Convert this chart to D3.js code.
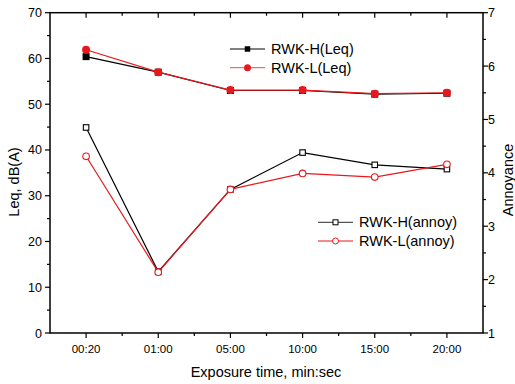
<!DOCTYPE html>
<html><head><meta charset="utf-8">
<script src="https://cdn.jsdelivr.net/npm/d3@7"></script>
<style>body{margin:0;background:#fff}svg{display:block}text{font-family:"Liberation Sans",Arial,sans-serif;fill:#000}</style>
</head><body>
<svg id="c" width="515" height="384"></svg>
<script>
const categories = ["00:20","01:00","05:00","10:00","15:00","20:00"];
const leqH = [60.4, 57.0, 53.0, 53.0, 52.2, 52.4];
const leqL = [61.9, 57.0, 53.1, 53.1, 52.3, 52.5];
const annoyH = [4.85, 2.15, 3.69, 4.38, 4.15, 4.07];
const annoyL = [4.31, 2.14, 3.69, 3.99, 3.92, 4.16];
const leftTicks = [0,10,20,30,40,50,60,70];
const rightTicks = [1,2,3,4,5,6,7];

const RED = "#e8191e";
const svg = d3.select("#c");
const L = 50, R = 483, T = 12.7, B = 333;
const x = d3.scaleLinear().domain([-0.5, categories.length - 0.5]).range([L, R]);
const yL = d3.scaleLinear().domain([0, 70]).range([B, T]);
const yR = d3.scaleLinear().domain([1, 7]).range([B, T]);

const g = svg.append("g");
function tickLine(x1,y1,x2,y2){ g.append("line").attr("x1",x1).attr("y1",y1).attr("x2",x2).attr("y2",y2).attr("stroke","#000").attr("stroke-width",1.2); }
g.append("rect").attr("x",L).attr("y",T).attr("width",R-L).attr("height",B-T).attr("fill","none").attr("stroke","#000").attr("stroke-width",1.5);

d3.range(-0.5, categories.length, 0.5).forEach(v => {
  const px = x(v);
  const major = Number.isInteger(v);
  if (v <= -0.5 || v >= categories.length - 0.5) return;
  const len = major ? 5 : 3;
  tickLine(px, B, px, B + len);
  tickLine(px, T, px, T + len);
});
categories.forEach((c,i) => {
  g.append("text").attr("x", x(i)).attr("y", B + 20).attr("text-anchor","middle").attr("font-size",11.5).text(c);
});
d3.range(0, 70.01, 5).forEach(v => {
  const major = v % 10 === 0;
  tickLine(L - (major ? 5 : 3), yL(v), L, yL(v));
});
leftTicks.forEach(v => {
  g.append("text").attr("x", L - 8).attr("y", yL(v) + 4.5).attr("text-anchor","end").attr("font-size",12.5).text(v);
});
d3.range(1, 7.01, 0.5).forEach(v => {
  const major = Number.isInteger(v);
  tickLine(R, yR(v), R + (major ? 5 : 3), yR(v));
});
rightTicks.forEach(v => {
  g.append("text").attr("x", R + 5).attr("y", yR(v) + 4.5).attr("text-anchor","start").attr("font-size",12.5).text(v);
});

svg.append("text").attr("transform",`translate(19,182) rotate(-90)`).attr("text-anchor","middle").attr("font-size",14.5).text("Leq, dB(A)");
svg.append("text").attr("transform",`translate(513,180) rotate(-90)`).attr("text-anchor","middle").attr("font-size",14.5).text("Annoyance");
svg.append("text").attr("x",266).attr("y",377).attr("text-anchor","middle").attr("font-size",14.5).text("Exposure time, min:sec");

const line = (ys) => d3.line().x((d,i)=>x(i)).y(d=>ys(d));
function series(data, ys, color, shape, filled){
  svg.append("path").datum(data).attr("d", line(ys)).attr("fill","none").attr("stroke",color).attr("stroke-width",1.2);
  data.forEach((d,i)=>{
    if (shape === "square") {
      const s = filled ? 7 : 5.5;
      svg.append("rect").attr("x",x(i)-s/2).attr("y",ys(d)-s/2).attr("width",s).attr("height",s)
        .attr("fill", filled ? color : "#fff").attr("stroke", color).attr("stroke-width", filled?0:1.1);
    } else {
      svg.append("circle").attr("cx",x(i)).attr("cy",ys(d)).attr("r", filled ? 4 : 3.3)
        .attr("fill", filled ? color : "#fff").attr("stroke", color).attr("stroke-width", filled?0:1.1);
    }
  });
}
series(annoyH, yR, "#000", "square", false);
series(annoyL, yR, RED, "circle", false);
series(leqH, yL, "#000", "square", true);
series(leqL, yL, RED, "circle", true);

function legendItem(lx, ly, color, shape, filled, label, lineColor){
  svg.append("line").attr("x1",lx).attr("y1",ly).attr("x2",lx+35).attr("y2",ly).attr("stroke",lineColor||color).attr("stroke-width",1.2);
  const cx = lx + 17.5;
  if (shape === "square") {
    const s = filled ? 5.5 : 5;
    svg.append("rect").attr("x",cx-s/2).attr("y",ly-s/2).attr("width",s).attr("height",s)
      .attr("fill", filled ? color : "#fff").attr("stroke",color).attr("stroke-width",filled?0:1);
  } else {
    svg.append("circle").attr("cx",cx).attr("cy",ly).attr("r", filled ? 3.5 : 3)
      .attr("fill", filled ? color : "#fff").attr("stroke",color).attr("stroke-width",filled?0:1);
  }
  svg.append("text").attr("x",lx+41).attr("y",ly+5).attr("font-size",14.5).text(label);
}
legendItem(230, 49, "#000", "square", true, "RWK-H(Leq)");
legendItem(230, 67.7, RED, "circle", true, "RWK-L(Leq)", "#f07070");
legendItem(318, 222.3, "#000", "square", false, "RWK-H(annoy)", "#555");
legendItem(318, 241, RED, "circle", false, "RWK-L(annoy)");
</script>
</body></html>
